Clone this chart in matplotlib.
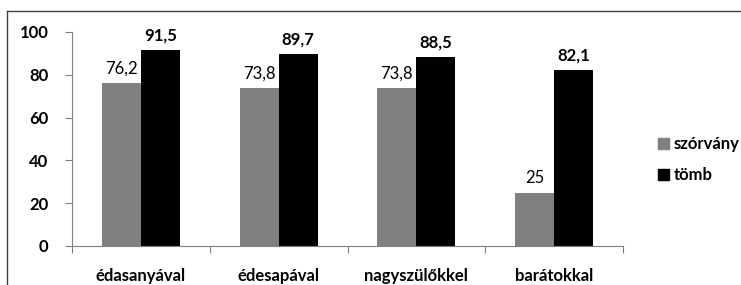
import numpy as np
import matplotlib.pyplot as plt
from matplotlib.lines import Line2D
from matplotlib.patches import Patch

plt.rcParams['font.family'] = ['Lato', 'DejaVu Sans']

categories = ['édasanyával', 'édesapával', 'nagyszülőkkel', 'barátokkal']
szorvany = [76.2, 73.8, 73.8, 25]
tomb = [91.5, 89.7, 88.5, 82.1]
labels_sz = ['76,2', '73,8', '73,8', '25']
labels_to = ['91,5', '89,7', '88,5', '82,1']

fs = 12
wt = 'bold'

fig = plt.figure(figsize=(7.41, 2.85), dpi=100)
W, H = 741, 285
ax = fig.add_axes([72 / W, 1 - 246 / H, (623 - 72) / W, (246 - 32) / H])

x = np.arange(len(categories))
w = 0.283
b1 = ax.bar(x - w / 2, szorvany, w, color='#808080', label='szórvány')
b2 = ax.bar(x + w / 2, tomb, w, color='black', label='tömb')
for rect, t in zip(b1, labels_sz):
    ax.text(rect.get_x() + rect.get_width() / 2, rect.get_height() + 3, t,
            ha='center', va='bottom', fontsize=fs)
for rect, t in zip(b2, labels_to):
    ax.text(rect.get_x() + rect.get_width() / 2, rect.get_height() + 3, t,
            ha='center', va='bottom', fontsize=fs, fontweight=wt)

ax.set_xlim(-0.5, len(categories) - 0.5)
ax.set_ylim(0, 100)
ax.set_yticks(range(0, 101, 20))
ax.set_yticklabels([str(v) for v in range(0, 101, 20)], fontsize=fs, fontweight=wt)
ax.set_xticks(np.arange(-0.5, len(categories), 1.0))
ax.set_xticklabels([])
ax.set_xticks(x, minor=True)
ax.set_xticklabels(categories, minor=True, fontsize=fs, fontweight=wt)
ax.tick_params(axis='x', which='minor', length=0, pad=16)
ax.tick_params(axis='x', which='major', length=5, color='#808080')
ax.tick_params(axis='y', length=5, color='#808080', pad=12)
for s in ['top', 'right']:
    ax.spines[s].set_visible(False)
ax.spines['left'].set_color('#808080')
ax.spines['bottom'].set_color('#808080')

handles = [Patch(color='#808080', label='szórvány'), Patch(color='black', label='tömb')]
fig.legend(handles=handles, loc='center left', bbox_to_anchor=(643 / W, 1 - 160 / H),
           frameon=False, prop={'size': fs, 'weight': wt}, handlelength=0.65,
           handleheight=0.65, handletextpad=0.3, labelspacing=0.9)

fig.add_artist(Line2D([7 / W, 1], [1 - 11 / H, 1 - 11 / H], color='#404040', lw=1))
fig.add_artist(Line2D([7 / W, 7 / W], [0, 1 - 11 / H], color='#404040', lw=1))

fig.savefig('out.png', dpi=100)
